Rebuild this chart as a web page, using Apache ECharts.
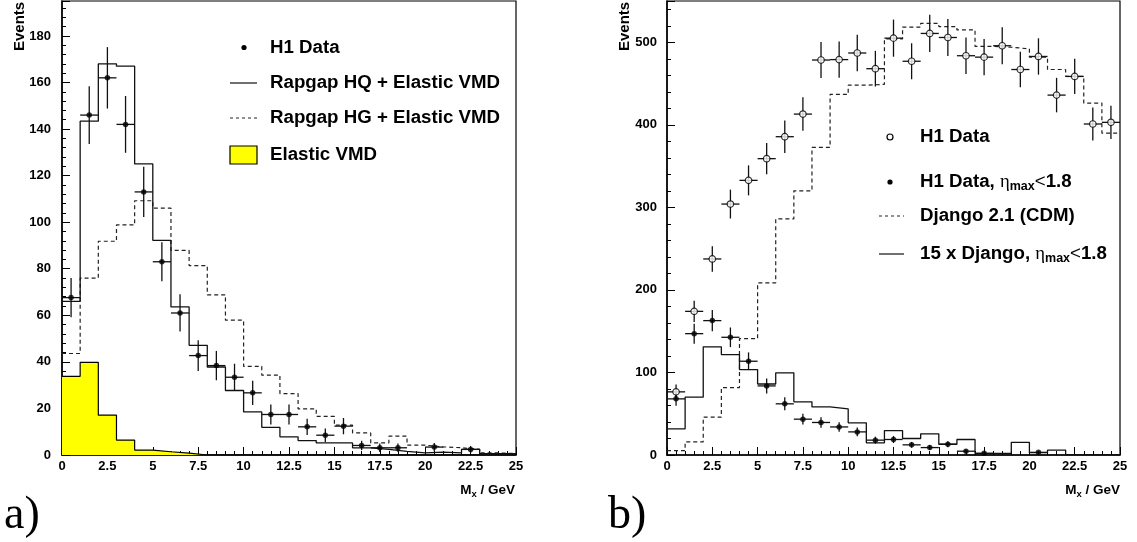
<!DOCTYPE html>
<html>
<head>
<meta charset="utf-8">
<script src="https://cdn.jsdelivr.net/npm/echarts@6/dist/echarts.min.js"></script>
<style>
html,body{margin:0;padding:0;background:#fff;}
#chart{width:1137px;height:542px;}
</style>
</head>
<body>
<div id="chart"></div>
<script>
// ---------- DATA ----------
const binEdges = [0,1,2,3,4,5,6,7,8,9,10,11,12,13,14,15,16,17,18,19,20,21,22,23,24,25];

// Panel a)
const a_h1Data   = [67.6,146,162,142,113,83,61,42.7,38.4,33.4,26.7,17.4,17.4,12.1,8.5,12.4,4.1,3.1,3.1,null,3.4,null,2.4,null,null];
const a_h1Err    = [8.4,12.4,13.2,12.2,10.8,8.4,8.0,6.6,6.3,5.8,5.2,4.3,4.3,3.5,2.9,3.5,2.0,1.8,1.8,null,1.8,null,1.5,null,null];
const a_rapgapHQ = [66,143.4,168,167,125,92.2,63.6,47.1,37.8,27.7,18.5,11.9,7.8,6.2,5.2,5.2,3.1,2.4,1.6,0.9,1.2,0.9,2.4,0.6,0.6];
const a_rapgapHG = [43.6,76,91.8,98.8,109.2,106,87.9,81.3,68.8,57.9,38.1,34.3,26.4,19.8,16.6,12.8,9.5,5.2,8.1,4.2,3.5,3.1,2.4,0.9,0.6];
const a_elastic  = [33.8,39.8,17.1,6.4,2.1,1.4,0.8,0,0,0,0,0,0,0,0,0,0,0,0,0,0,0,0,0,0];

// Panel b)
const b_h1Data    = [76.5,174,237.5,304,332.7,359,385.6,413,478.5,479,487,468,505,477,510.7,505.8,483.7,482,495.8,467,482.8,436,458.6,401,403];
const b_h1Err     = [9,13,15.5,17.5,18.2,19,19.6,20.3,21.9,21.9,22,21.6,22.5,21.8,22.6,22.5,22,22,22.3,21.6,22,20.9,21.4,20,20.1];
const b_h1Cut     = [68,147,162.8,142.6,113.6,83.7,62,43.4,39.4,34,28,18,18.8,12.3,9,13,4.6,2,null,null,3.2,null,null,null,null];
const b_h1CutErr  = [8.2,12.1,12.8,11.9,10.7,9.1,7.9,6.6,6.3,5.8,5.3,4.2,4.3,3.5,3,3.6,2.1,1.4,null,null,1.8,null,null,null,null];
const b_django    = [5.4,16,45.8,81.7,141,208.5,286,320,372.6,436.8,448,449,504,518.4,523,519,515,495,494,492,482,467,458.6,426.4,390];
const b_django15  = [31.7,70,131,121.7,103.5,86,99.5,64.4,58.3,56,39,14.8,29.6,20,25.6,13,18.8,1.8,1.8,15.3,2.8,6,0.5,0.5,0.5];

const xTicksInterval = 2.5;

// ---------- HELPERS ----------
function stepData(vals){
  const d = vals.map((v,i)=>[binEdges[i], v]);
  d.push([binEdges[vals.length], vals[vals.length-1]]);
  return d;
}
function pointData(vals, errs){
  const out = [];
  vals.forEach((v,i)=>{ if(v!=null) out.push([(binEdges[i]+binEdges[i+1])/2, v, errs[i], binEdges[i], binEdges[i+1]]); });
  return out;
}
function errRender(params, api){
  const x = api.value(0), y = api.value(1), e = api.value(2), x0 = api.value(3), x1 = api.value(4);
  const lo = api.coord([x, Math.max(0, y-e)]), hi = api.coord([x, y+e]);
  const l = api.coord([x0, y]), r = api.coord([x1, y]);
  const st = {stroke:'#111', lineWidth:1.3};
  return {type:'group', children:[
    {type:'line', shape:{x1:lo[0],y1:lo[1],x2:hi[0],y2:hi[1]}, style:st},
    {type:'line', shape:{x1:l[0],y1:l[1],x2:r[0],y2:r[1]}, style:st}
  ]};
}

const FONT = 'Liberation Sans, Arial, sans-serif';
const labelStyle = {color:'#000', fontFamily:FONT, fontWeight:'bold', fontSize:13};

function xAxisCfg(idx){
  return {
    type:'value', gridIndex:idx, min:0, max:25, interval:xTicksInterval,
    axisLine:{show:true, lineStyle:{color:'#000', width:1.5}},
    axisTick:{show:true, inside:true, length:8, lineStyle:{color:'#000', width:1}},
    minorTick:{show:true, splitNumber:5, length:4, lineStyle:{color:'#000', width:1}},
    splitLine:{show:false},
    axisLabel:Object.assign({margin:5, showMinLabel:true, showMaxLabel:true}, labelStyle)
  };
}
function yAxisCfg(idx, max, interval, margin){
  return {
    type:'value', gridIndex:idx, min:0, max:max, interval:interval,
    axisLine:{show:true, lineStyle:{color:'#000', width:1.5}},
    axisTick:{show:true, inside:true, length:8, lineStyle:{color:'#000', width:1}},
    minorTick:{show:true, splitNumber:5, length:4, lineStyle:{color:'#000', width:1}},
    splitLine:{show:false},
    axisLabel:Object.assign({margin:margin, showMaxLabel:false}, labelStyle)
  };
}

const chart = echarts.init(document.getElementById('chart'), null, {renderer:'canvas'});

const LS = 18.7;
const richEta = {
  b:{fontFamily:FONT, fontWeight:'bold', fontSize:LS, color:'#000'},
  eta:{fontFamily:'Liberation Serif, DejaVu Serif, serif', fontWeight:'normal', fontSize:LS, color:'#000'},
  sub:{fontFamily:FONT, fontWeight:'bold', fontSize:12.5, color:'#000', padding:[10,0,0,0]},
  lt:{fontFamily:FONT, fontWeight:'normal', fontSize:LS, color:'#000'}
};
const richM = {
  b:{fontFamily:FONT, fontWeight:'bold', fontSize:13.5, color:'#000'},
  s:{fontFamily:FONT, fontWeight:'bold', fontSize:9.5, color:'#000', padding:[9,0,0,0]}
};
const legFont = 'bold ' + LS + 'px Liberation Sans, Arial, sans-serif';

const graphics = [
  // Y titles
  {type:'text', x:20, y:51, rotation:Math.PI/2, style:{text:'Events', font:'bold 15px Liberation Sans, Arial, sans-serif', fill:'#000', align:'left', verticalAlign:'middle'}},
  {type:'text', x:625, y:51, rotation:Math.PI/2, style:{text:'Events', font:'bold 15px Liberation Sans, Arial, sans-serif', fill:'#000', align:'left', verticalAlign:'middle'}},
  // X titles
  {type:'text', x:515, y:490, style:{text:'{b|M}{s|x}{b| / GeV}', rich:richM, align:'right', verticalAlign:'middle'}},
  {type:'text', x:1120, y:490, style:{text:'{b|M}{s|x}{b| / GeV}', rich:richM, align:'right', verticalAlign:'middle'}},
  // panel letters
  {type:'text', x:4, y:516, style:{text:'a)', font:'normal 46px Liberation Serif, DejaVu Serif, serif', fill:'#000', align:'left', verticalAlign:'middle'}},
  {type:'text', x:608, y:516, style:{text:'b)', font:'normal 46px Liberation Serif, DejaVu Serif, serif', fill:'#000', align:'left', verticalAlign:'middle'}},
  // Legend a)
  {type:'circle', shape:{cx:244, cy:47.5, r:2.6}, style:{fill:'#000'}},
  {type:'text', x:270, y:47.5, style:{text:'H1 Data', font:legFont, fill:'#000', verticalAlign:'middle'}},
  {type:'line', shape:{x1:230, y1:83, x2:257, y2:83}, style:{stroke:'#222', lineWidth:1.3}},
  {type:'text', x:270, y:83, style:{text:'Rapgap HQ + Elastic VMD', font:legFont, fill:'#000', verticalAlign:'middle'}},
  {type:'line', shape:{x1:230, y1:118, x2:257, y2:118}, style:{stroke:'#222', lineWidth:1.2, lineDash:[3,3]}},
  {type:'text', x:270, y:118, style:{text:'Rapgap HG + Elastic VMD', font:legFont, fill:'#000', verticalAlign:'middle'}},
  {type:'rect', shape:{x:230, y:146, width:27, height:18}, style:{fill:'#ffff00', stroke:'#000', lineWidth:1.2}},
  {type:'text', x:270, y:155, style:{text:'Elastic VMD', font:legFont, fill:'#000', verticalAlign:'middle'}},
  // Legend b)
  {type:'circle', shape:{cx:890, cy:137, r:3}, style:{fill:'#fff', stroke:'#000', lineWidth:1.2}},
  {type:'text', x:920, y:137, style:{text:'H1 Data', font:legFont, fill:'#000', verticalAlign:'middle'}},
  {type:'circle', shape:{cx:890, cy:182, r:2.6}, style:{fill:'#000'}},
  {type:'text', x:920, y:182, style:{text:'{b|H1 Data, }{eta|η}{sub|max}{lt|<}{b|1.8}', rich:richEta, verticalAlign:'middle'}},
  {type:'line', shape:{x1:879, y1:216, x2:904, y2:216}, style:{stroke:'#222', lineWidth:1.2, lineDash:[3,3]}},
  {type:'text', x:920, y:216, style:{text:'Django 2.1 (CDM)', font:legFont, fill:'#000', verticalAlign:'middle'}},
  {type:'line', shape:{x1:879, y1:254, x2:904, y2:254}, style:{stroke:'#222', lineWidth:1.3}},
  {type:'text', x:920, y:254, style:{text:'{b|15 x Django, }{eta|η}{sub|max}{lt|<}{b|1.8}', rich:richEta, verticalAlign:'middle'}}
];

const solid = {color:'#111', width:1.3, type:'solid'};
const dashed = {color:'#222', width:1.2, type:[4,3]};

const option = {
  animation:false,
  backgroundColor:'#fff',
  grid:[
    {left:62, top:1, width:454, height:454, show:true, borderColor:'#000', borderWidth:1.2, backgroundColor:'transparent'},
    {left:667, top:1, width:453, height:454, show:true, borderColor:'#000', borderWidth:1.2, backgroundColor:'transparent'}
  ],
  xAxis:[xAxisCfg(0), xAxisCfg(1)],
  yAxis:[yAxisCfg(0, 195, 20, 11), yAxisCfg(1, 550, 100, 10)],
  graphic:graphics,
  series:[
    // panel a
    {type:'line', xAxisIndex:0, yAxisIndex:0, step:'end', symbol:'none', data:stepData(a_elastic),
     lineStyle:{color:'#000', width:1.2}, areaStyle:{color:'#ffff00', opacity:1}, z:1},
    {type:'line', xAxisIndex:0, yAxisIndex:0, step:'end', symbol:'none', data:stepData(a_rapgapHG), lineStyle:dashed, z:2},
    {type:'line', xAxisIndex:0, yAxisIndex:0, step:'end', symbol:'none', data:stepData(a_rapgapHQ), lineStyle:solid, z:3},
    {type:'custom', xAxisIndex:0, yAxisIndex:0, renderItem:errRender, data:pointData(a_h1Data, a_h1Err), clip:true, z:4},
    {type:'scatter', xAxisIndex:0, yAxisIndex:0, data:pointData(a_h1Data, a_h1Err).map(d=>[d[0],d[1]]),
     symbol:'circle', symbolSize:5.5, itemStyle:{color:'#000'}, z:5},
    // panel b
    {type:'line', xAxisIndex:1, yAxisIndex:1, step:'end', symbol:'none', data:stepData(b_django), lineStyle:dashed, z:2},
    {type:'line', xAxisIndex:1, yAxisIndex:1, step:'end', symbol:'none', data:stepData(b_django15), lineStyle:solid, z:3},
    {type:'custom', xAxisIndex:1, yAxisIndex:1, renderItem:errRender, data:pointData(b_h1Data, b_h1Err), clip:true, z:4},
    {type:'custom', xAxisIndex:1, yAxisIndex:1, renderItem:errRender, data:pointData(b_h1Cut, b_h1CutErr), clip:true, z:4},
    {type:'scatter', xAxisIndex:1, yAxisIndex:1, data:pointData(b_h1Data, b_h1Err).map(d=>[d[0],d[1]]),
     symbol:'circle', symbolSize:6.5, itemStyle:{color:'#fff', borderColor:'#000', borderWidth:1.2}, z:5},
    {type:'scatter', xAxisIndex:1, yAxisIndex:1, data:pointData(b_h1Cut, b_h1CutErr).map(d=>[d[0],d[1]]),
     symbol:'circle', symbolSize:5.5, itemStyle:{color:'#000'}, z:5}
  ]
};
chart.setOption(option);
</script>
</body>
</html>
